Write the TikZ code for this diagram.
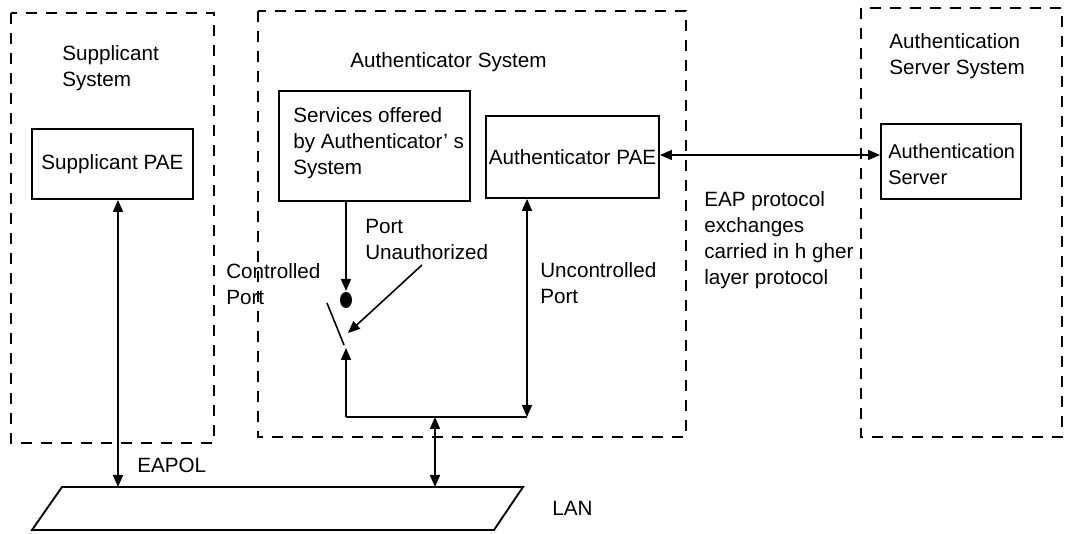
\documentclass[tikz,border=0pt]{standalone}
\usepackage{fontspec}
\setmainfont{Liberation Sans}
\usetikzlibrary{arrows.meta}
\begin{document}
\begin{tikzpicture}[x=0.75pt,y=-0.75pt,
  font=\fontsize{15.5}{19.5}\selectfont,
  sys/.style={draw, line width=1.6pt, dash pattern=on 8pt off 7pt},
  blk/.style={draw, line width=1.4pt, inner sep=0pt},
  lbl/.style={inner sep=0pt, align=left, anchor=west},
  conn/.style={line width=1.2pt},
  tip/.style={-{Triangle[length=9pt,width=7.5pt]}},
  dtip/.style={{Triangle[length=9pt,width=7.5pt]}-{Triangle[length=9pt,width=7.5pt]}}]
\useasboundingbox (0,0) rectangle (1065,534);
% system boundaries
\draw[sys] (11,13) rectangle (214,443);
\draw[sys] (258,11) rectangle (686,437);
\draw[sys] (861,8) rectangle (1062,437);
% blocks
\node[blk, minimum width=120.75pt, minimum height=52.5pt] (spae) at (112.5,164) {Supplicant PAE};
\node[blk, minimum width=143.25pt, minimum height=82.5pt] (svc) at (374.5,146) {};
\node[lbl] (svctxt) at (293,143) {Services offered\\by Authenticator’ s\\System};
\node[blk, minimum width=129.75pt, minimum height=61.5pt] (apae) at (572.5,157) {Authenticator PAE};
\node[blk, minimum width=105pt, minimum height=56.25pt] (asrv) at (951,161.5) {};
\node[lbl, font=\fontsize{15}{19.5}\selectfont] (asrvtxt) at (888,164) {Authentication\\Server};
% labels
\node[lbl] (supsys) at (62,68.5) {Supplicant\\System};
\node[lbl] (authsys) at (350,62) {Authenticator System};
\node[lbl] (asys) at (889,56.5) {Authentication\\Server System};
\node[lbl] (eap) at (704,240.5) {EAP protocol\\exchanges\\carried in h gher\\layer protocol};
\node[lbl] (pu) at (365,239.5) {Port\\Unauthorized};
\node[lbl] (cp) at (226,284.5) {Controlled\\Port};
\node[lbl] (up) at (540,283) {Uncontrolled\\Port};
\node[lbl] (eapol) at (137,465) {EAPOL};
\node[lbl] (lantxt) at (552,508) {LAN};
% coordinates
\coordinate (blobtop) at (346,291);
\coordinate (blob) at (346,300);
\coordinate (swtop) at (327,303);
\coordinate (swbot) at (344,345);
\coordinate (swin) at (346,348);
\coordinate (bl) at (346,417);
\coordinate (br) at (527,417);
\coordinate (join) at (435,417);
\coordinate (lan1) at (62,487);
\coordinate (lan2) at (523,487);
\coordinate (lan3) at (494,530);
\coordinate (lan4) at (32,530);
\coordinate (lanA) at (118,487);
\coordinate (lanB) at (435,487);
\coordinate (puA) at (422,265);
\coordinate (puB) at (348,333);
% LAN
\draw[blk] (lan1) -- (lan2) -- (lan3) -- (lan4) -- cycle;
% connectors
\draw[conn,tip] (svc.south -| blobtop) -- (blobtop);
\fill (blob) ellipse [x radius=4.5pt, y radius=6pt];
\draw[conn] (swtop) -- (swbot);
\draw[conn,tip] (bl) -- (swin);
\draw[conn] (bl) -- (br);
\draw[conn,dtip] (br) -- (apae.south -| br);
\draw[conn,dtip] (lanB) -- (join);
\draw[conn,dtip] (spae.south -| lanA) -- (lanA);
\draw[conn,dtip] (apae.east |- 0,155) -- (asrv.west |- 0,155);
\draw[conn,tip] (puA) -- (puB);
\end{tikzpicture}
\end{document}
